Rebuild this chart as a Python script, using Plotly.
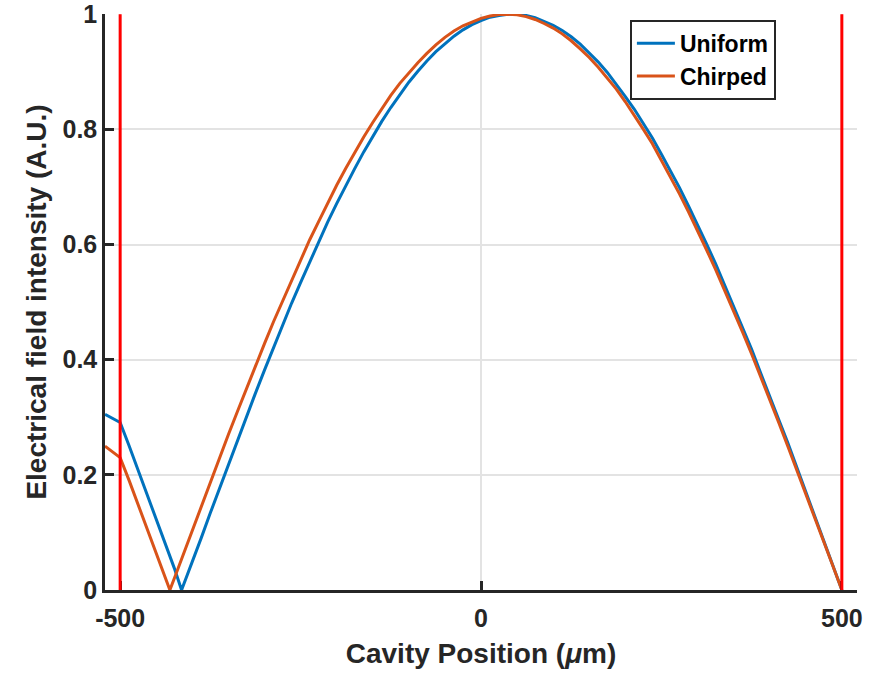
import plotly.graph_objects as go

# Cavity position samples (um) and normalised field intensity for each grating
x_uniform = [-521, -510, -500, -487.5, -475, -462.5, -450, -437.5, -425, -414.9,
             -400, -387.5, -375, -362.5, -350, -337.5, -325, -312.5, -300, -287.5,
             -275, -262.5, -250, -237.5, -225, -212.5, -200, -187.5, -175, -162.5,
             -150, -137.5, -125, -112.5, -100, -87.5, -75, -62.5, -50, -37.5,
             -25, -12.5, 0, 12.5, 25, 37.5, 50, 62.5, 75, 87.5,
             100, 112.5, 125, 137.5, 150, 162.5, 175, 187.5, 200, 212.5,
             225, 237.5, 250, 262.5, 275, 287.5, 300, 312.5, 325, 337.5,
             350, 362.5, 375, 387.5, 400, 412.5, 425, 437.5, 450, 462.5,
             475, 487.5, 500]
y_uniform = [0.305, 0.298, 0.291, 0.250, 0.208, 0.166, 0.123, 0.081, 0.038, 0.0,
             0.048, 0.091, 0.134, 0.176, 0.218, 0.260, 0.301, 0.342, 0.382, 0.421,
             0.460, 0.498, 0.534, 0.570, 0.605, 0.639, 0.671, 0.702, 0.732, 0.761,
             0.788, 0.814, 0.838, 0.861, 0.882, 0.901, 0.919, 0.935, 0.949, 0.962,
             0.973, 0.982, 0.989, 0.995, 0.998, 1.0, 1.0, 0.998, 0.994, 0.988,
             0.981, 0.972, 0.961, 0.948, 0.933, 0.917, 0.899, 0.879, 0.857, 0.835,
             0.810, 0.785, 0.757, 0.729, 0.699, 0.667, 0.635, 0.601, 0.567, 0.530,
             0.494, 0.455, 0.418, 0.377, 0.338, 0.296, 0.256, 0.213, 0.171, 0.129,
             0.086, 0.043, 0.0]

x_chirped = [-521, -510, -500, -487.5, -475, -462.5, -450, -437.5, -431.1, -425,
             -412.5, -400, -387.5, -375, -362.5, -350, -337.5, -325, -312.5, -300,
             -287.5, -275, -262.5, -250, -237.5, -225, -212.5, -200, -187.5, -175,
             -162.5, -150, -137.5, -125, -112.5, -100, -87.5, -75, -62.5, -50,
             -37.5, -25, -12.5, 0, 12.5, 25, 37.5, 50, 62.5, 75,
             87.5, 100, 112.5, 125, 137.5, 150, 162.5, 175, 187.5, 200,
             212.5, 225, 237.5, 250, 262.5, 275, 287.5, 300, 312.5, 325,
             337.5, 350, 362.5, 375, 387.5, 400, 412.5, 425, 437.5, 450,
             462.5, 475, 487.5, 500]
y_chirped = [0.250, 0.240, 0.230, 0.190, 0.148, 0.106, 0.064, 0.022, 0.0, 0.020,
             0.062, 0.104, 0.146, 0.188, 0.229, 0.270, 0.310, 0.350, 0.389, 0.428,
             0.466, 0.502, 0.539, 0.574, 0.608, 0.640, 0.672, 0.703, 0.732, 0.760,
             0.787, 0.812, 0.836, 0.859, 0.880, 0.899, 0.916, 0.932, 0.947, 0.960,
             0.971, 0.980, 0.987, 0.993, 0.997, 0.9995, 1.0, 0.999, 0.996, 0.991,
             0.984, 0.976, 0.966, 0.954, 0.940, 0.925, 0.908, 0.889, 0.870, 0.848,
             0.825, 0.800, 0.775, 0.746, 0.718, 0.688, 0.657, 0.625, 0.591, 0.557,
             0.521, 0.486, 0.448, 0.410, 0.371, 0.331, 0.291, 0.250, 0.209, 0.168,
             0.126, 0.084, 0.042, 0.0]

# Cavity facet positions (um)
facets = [-500, 500]

x_ticks = [-500, 0, 500]
y_ticks = [0, 0.2, 0.4, 0.6, 0.8, 1]
y_tick_text = ["0", "0.2", "0.4", "0.6", "0.8", "1"]

FONT = "Liberation Sans, Arial, sans-serif"
INK = "#262626"

fig = go.Figure()
fig.add_trace(go.Scatter(x=x_uniform, y=y_uniform, mode="lines", name="Uniform",
                         line=dict(color="#0072BD", width=3)))
fig.add_trace(go.Scatter(x=x_chirped, y=y_chirped, mode="lines", name="Chirped",
                         line=dict(color="#D95319", width=3)))

for xf in facets:
    fig.add_shape(type="line", x0=xf, x1=xf, y0=0, y1=1, xref="x", yref="y",
                  line=dict(color="#FF0000", width=3), layer="above")

fig.update_layout(
    width=869, height=674,
    margin=dict(l=105, r=12, t=14, b=84),
    paper_bgcolor="white", plot_bgcolor="white",
    font=dict(family=FONT, color=INK, size=24, weight="bold"),
    showlegend=True,
    legend=dict(x=0.698, y=0.99, xanchor="left", yanchor="top",
                bgcolor="white", bordercolor=INK, borderwidth=2,
                font=dict(family=FONT, size=23, color="black", weight="bold"),
                tracegroupgap=0, itemwidth=38),
)

fig.update_xaxes(
    range=[-521, 521], tickvals=x_ticks, ticktext=[str(v) for v in x_ticks],
    ticks="inside", ticklen=9, tickwidth=2.5, tickcolor=INK, automargin=False,
    ticklabelstandoff=4,
    showline=True, linecolor=INK, linewidth=2.5, mirror=False,
    showgrid=True, gridcolor="#E3E3E3", gridwidth=2, zeroline=False,
    tickfont=dict(family=FONT, size=25, color=INK, weight="bold"),
    title=dict(text="Cavity Position (<i>μ</i>m)", standoff=13,
               font=dict(family=FONT, size=28, color=INK, weight="bold")),
)
fig.update_yaxes(
    range=[0, 1.0005], tickvals=y_ticks, ticktext=y_tick_text,
    ticks="inside", ticklen=9, tickwidth=2.5, tickcolor=INK, automargin=False,
    showline=True, linecolor=INK, linewidth=2.5, mirror=False,
    showgrid=True, gridcolor="#E3E3E3", gridwidth=2, zeroline=False,
    tickfont=dict(family=FONT, size=25, color=INK, weight="bold"),
    title=dict(text="Electrical field intensity (A.U.)", standoff=8,
               font=dict(family=FONT, size=28, color=INK, weight="bold")),
)

fig.write_html("out.html")
